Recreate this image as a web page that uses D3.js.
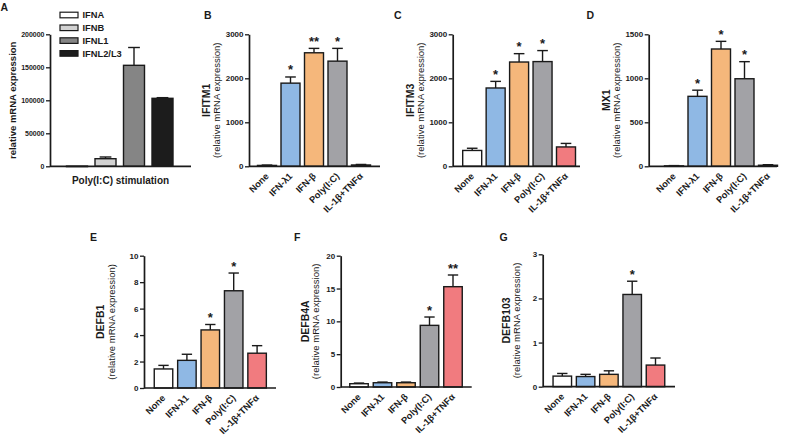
<!DOCTYPE html>
<html><head><meta charset="utf-8">
<script src="https://cdn.jsdelivr.net/npm/d3@7"></script>
<style>
html,body{margin:0;padding:0;background:#fff;}
svg{display:block;font-family:"Liberation Sans",Arial,Helvetica,sans-serif;}
</style></head>
<body><svg id="c" width="787" height="436"></svg>
<script>
// ---------- data ----------
const groups = ["None", "IFN-λ1", "IFN-β", "Poly(I:C)", "IL-1β+TNFα"];

const ifnNames = ["IFNA", "IFNB", "IFNL1", "IFNL2/L3"];
const ifnMean = [300, 11500, 153000, 103000];
const ifnErr = [0, 2600, 27000, 1000];
const ifnTicks = [0, 50000, 100000, 150000, 200000];

const ifitm1Mean = [20, 1890, 2580, 2390, 30];
const ifitm1Err = [8, 140, 100, 290, 12];
const ifitm1Stars = ["", "*", "**", "*", ""];
const ifitm1Ticks = [0, 1000, 2000, 3000];

const ifitm3Mean = [360, 1780, 2370, 2380, 440];
const ifitm3Err = [50, 150, 190, 250, 80];
const ifitm3Stars = ["", "*", "*", "*", ""];
const ifitm3Ticks = [0, 1000, 2000, 3000];

const mx1Mean = [5, 795, 1333, 995, 12];
const mx1Err = [3, 70, 87, 194, 6];
const mx1Stars = ["", "*", "*", "*", ""];
const mx1Ticks = [0, 500, 1000, 1500];

const defb1Mean = [1.44, 2.09, 4.39, 7.35, 2.63];
const defb1Err = [0.27, 0.46, 0.41, 1.34, 0.57];
const defb1Stars = ["", "", "*", "*", ""];
const defb1Ticks = [0, 2, 4, 6, 8, 10];

const defb4aMean = [0.5, 0.65, 0.65, 9.39, 15.28];
const defb4aErr = [0.1, 0.1, 0.1, 1.27, 1.78];
const defb4aStars = ["", "", "", "*", "**"];
const defb4aTicks = [0, 5, 10, 15, 20];

const defb103Mean = [0.24, 0.23, 0.28, 2.09, 0.49];
const defb103Err = [0.06, 0.05, 0.08, 0.30, 0.16];
const defb103Stars = ["", "", "", "*", ""];
const defb103Ticks = [0, 1, 2, 3];

// ---------- styles ----------
const groupFill = ["#ffffff", "#8fb8e4", "#f5b77b", "#a2a2a6", "#f17b7f"];
const ifnFill = ["#ffffff", "#d2d2d2", "#858585", "#1c1c1c"];
const ink = "#1a1a1a";
const FONT_TICK = 8;

const svg = d3.select("#c");

function letter(t, x, y) {
  svg.append("text").attr("x", x).attr("y", y).attr("font-size", 10.5)
    .attr("font-weight", "bold").attr("fill", ink).text(t);
}

function yAxis(g, y, ticks, axisX, fs) {
  const ax = g.append("g").attr("transform", `translate(${axisX},0)`)
    .call(d3.axisLeft(y).tickValues(ticks).tickSize(4).tickSizeOuter(0).tickPadding(1.5).tickFormat(d3.format("d")));
  ax.select(".domain").attr("stroke", ink).attr("stroke-width", 1.7);
  ax.selectAll(".tick line").attr("stroke", ink).attr("stroke-width", 1.3);
  ax.selectAll(".tick text").attr("font-size", fs).attr("font-weight", "bold")
    .attr("fill", ink).attr("font-family", "Liberation Sans, Arial, sans-serif");
}

function bars(g, x, y, cats, mean, err, fills, stars) {
  const bw = x.bandwidth();
  cats.forEach((c, i) => {
    const cx = x(c) + bw / 2;
    const top = y(mean[i] + err[i]);
    if (err[i] > 0) {
      g.append("line").attr("x1", cx).attr("x2", cx).attr("y1", y(mean[i])).attr("y2", top)
        .attr("stroke", ink).attr("stroke-width", 1.4);
      g.append("line").attr("x1", cx - bw * 0.28).attr("x2", cx + bw * 0.28).attr("y1", top).attr("y2", top)
        .attr("stroke", ink).attr("stroke-width", 1.4);
    }
    g.append("rect").attr("x", x(c)).attr("y", y(mean[i]))
      .attr("width", bw).attr("height", Math.max(0.5, y(0) - y(mean[i])))
      .attr("fill", fills[i]).attr("stroke", ink).attr("stroke-width", 1.4);
    if (stars && stars[i]) {
      g.append("text").attr("x", cx).attr("y", top - 2.5).attr("text-anchor", "middle")
        .attr("font-size", 13).attr("font-weight", "bold").attr("fill", ink).text(stars[i]);
    }
  });
}

function panel(o) {
  const g = svg.append("g");
  const n = groups.length;
  const pad = 1 - o.barW / o.step;
  const x = d3.scaleBand().domain(groups)
    .range([o.c0 - o.step / 2, o.c0 + o.step * (n - 0.5)])
    .paddingInner(pad).paddingOuter(pad / 2);
  const y = d3.scaleLinear().domain([0, o.max]).range([o.bottom, o.top]);
  bars(g, x, y, groups, o.mean, o.err, groupFill, o.stars);
  g.append("line").attr("x1", o.axisX).attr("x2", o.endX).attr("y1", y(0)).attr("y2", y(0))
    .attr("stroke", ink).attr("stroke-width", 1.7);
  yAxis(g, y, o.ticks, o.axisX, FONT_TICK);
  const xa = g.append("g").attr("transform", `translate(0,${y(0)})`)
    .call(d3.axisBottom(x).tickSize(0));
  xa.select(".domain").remove();
  xa.selectAll(".tick text").attr("font-size", 9.3).attr("font-weight", "bold").attr("fill", ink)
    .attr("font-family", "Liberation Sans, Arial, sans-serif")
    .attr("text-anchor", "end").attr("x", 0).attr("y", 0).attr("dy", 0)
    .attr("transform", "translate(2.5,10.5) rotate(-45)");
  const mid = (o.top + o.bottom) / 2;
  g.append("text").attr("transform", `translate(${o.t1},${mid}) rotate(-90)`)
    .attr("text-anchor", "middle").attr("font-size", 10.5).attr("font-weight", "bold")
    .attr("fill", ink).text(o.gene);
  g.append("text").attr("transform", `translate(${o.t2},${mid}) rotate(-90)`)
    .attr("text-anchor", "middle").attr("font-size", 9.5).attr("fill", ink)
    .text("(relative mRNA expression)");
  letter(o.letter, o.lx, o.ly);
}

// ---------- Panel A ----------
(function () {
  const g = svg.append("g");
  const axisX = 50, top = 34.3, bottom = 166.3;
  const step = 28.5, c0 = 77, bw = 21;
  const pad = 1 - bw / step;
  const x = d3.scaleBand().domain(ifnNames)
    .range([c0 - step / 2, c0 + step * (ifnNames.length - 0.5)])
    .paddingInner(pad).paddingOuter(pad / 2);
  const y = d3.scaleLinear().domain([0, 200000]).range([bottom, top]);
  bars(g, x, y, ifnNames, ifnMean, ifnErr, ifnFill, null);
  g.append("line").attr("x1", axisX).attr("x2", 191).attr("y1", y(0)).attr("y2", y(0))
    .attr("stroke", ink).attr("stroke-width", 1.7);
  yAxis(g, y, ifnTicks, axisX, 7);
  g.append("text").attr("x", 120.5).attr("y", 184).attr("text-anchor", "middle")
    .attr("font-size", 10).attr("font-weight", "bold").attr("fill", ink).text("Poly(I:C) stimulation");
  g.append("text").attr("transform", `translate(16,${(top + bottom) / 2}) rotate(-90)`)
    .attr("text-anchor", "middle").attr("font-size", 9.5).attr("font-weight", "bold")
    .attr("fill", ink).text("relative mRNA expression");
  const lg = g.append("g");
  ifnNames.forEach((nm, i) => {
    const cy = 15 + i * 12.8;
    lg.append("rect").attr("x", 60).attr("y", cy - 2.8).attr("width", 18).attr("height", 5.6)
      .attr("fill", ifnFill[i]).attr("stroke", ink).attr("stroke-width", 1.2);
    lg.append("text").attr("x", 82.5).attr("y", cy + 3.3).attr("font-size", 9.3)
      .attr("font-weight", "bold").attr("fill", ink).text(nm);
  });
  letter("A", 0.5, 11);
})();

// ---------- Panels B-G ----------
panel({letter: "B", lx: 204, ly: 18.5, axisX: 249, top: 34.3, bottom: 166.3, endX: 380,
  c0: 267, step: 23.5, barW: 19, max: 3000, ticks: ifitm1Ticks,
  mean: ifitm1Mean, err: ifitm1Err, stars: ifitm1Stars, gene: "IFITM1", t1: 210, t2: 220});
panel({letter: "C", lx: 394, ly: 18.5, axisX: 452.7, top: 34.3, bottom: 166.3, endX: 580,
  c0: 472.2, step: 23.45, barW: 19, max: 3000, ticks: ifitm3Ticks,
  mean: ifitm3Mean, err: ifitm3Err, stars: ifitm3Stars, gene: "IFITM3", t1: 414, t2: 424});
panel({letter: "D", lx: 586.5, ly: 18.5, axisX: 648.7, top: 34.3, bottom: 166.3, endX: 777,
  c0: 674, step: 23.5, barW: 19, max: 1500, ticks: mx1Ticks,
  mean: mx1Mean, err: mx1Err, stars: mx1Stars, gene: "MX1", t1: 610, t2: 620});
panel({letter: "E", lx: 90, ly: 241, axisX: 144, top: 255.7, bottom: 388, endX: 276,
  c0: 163.5, step: 23.4, barW: 18.5, max: 10, ticks: defb1Ticks,
  mean: defb1Mean, err: defb1Err, stars: defb1Stars, gene: "DEFB1", t1: 104, t2: 115});
panel({letter: "F", lx: 294, ly: 241, axisX: 340.7, top: 255.7, bottom: 387, endX: 471.7,
  c0: 359, step: 23.5, barW: 18.5, max: 20, ticks: defb4aTicks,
  mean: defb4aMean, err: defb4aErr, stars: defb4aStars, gene: "DEFB4A", t1: 309, t2: 319});
panel({letter: "G", lx: 499.5, ly: 241, axisX: 542.7, top: 254.3, bottom: 386.7, endX: 675,
  c0: 562.3, step: 23.3, barW: 18.5, max: 3, ticks: defb103Ticks,
  mean: defb103Mean, err: defb103Err, stars: defb103Stars, gene: "DEFB103", t1: 510, t2: 520});
</script>
</body></html>
